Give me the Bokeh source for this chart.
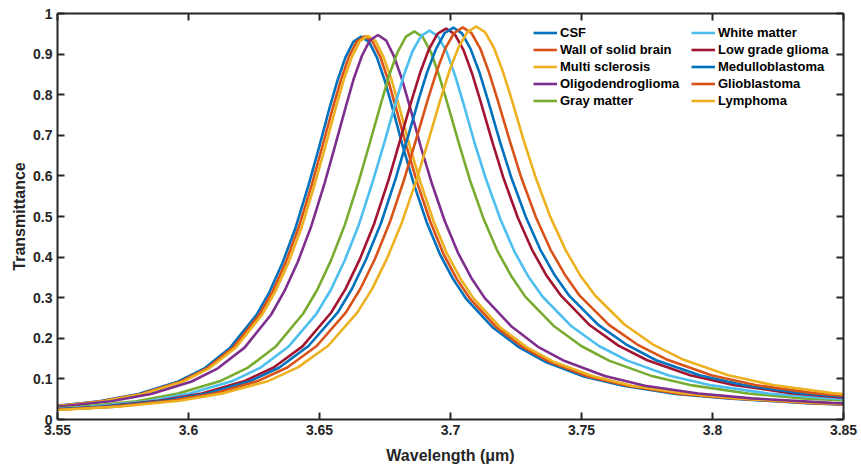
from bokeh.plotting import figure
from bokeh.models import LinearAxis, FixedTicker, Legend, LegendItem, Range1d
from bokeh.embed import file_html
from bokeh.resources import INLINE

# ---- data (wavelength in um, transmittance) ----
csf_wl = [3.5159, 3.5459, 3.5659, 3.5809, 3.5959, 3.6059, 3.6159, 3.6259, 3.6309, 3.6359, 3.6409, 3.6459, 3.6499, 3.6539, 3.6569, 3.6599, 3.6629, 3.6659, 3.6689, 3.6719, 3.6749, 3.6779, 3.6819, 3.6859, 3.6909, 3.6959, 3.7009, 3.7059, 3.7159, 3.7259, 3.7359, 3.7509, 3.7659, 3.7859, 3.8059, 3.8359, 3.8659]
csf_t = [0.020, 0.031, 0.045, 0.063, 0.093, 0.125, 0.177, 0.257, 0.314, 0.386, 0.473, 0.579, 0.672, 0.769, 0.836, 0.892, 0.930, 0.943, 0.930, 0.892, 0.835, 0.766, 0.671, 0.582, 0.486, 0.408, 0.347, 0.298, 0.228, 0.179, 0.143, 0.106, 0.083, 0.063, 0.052, 0.040, 0.033]

wall_wl = [3.5166, 3.5467, 3.5668, 3.5819, 3.5969, 3.6070, 3.6170, 3.6270, 3.6321, 3.6371, 3.6421, 3.6471, 3.6511, 3.6552, 3.6582, 3.6612, 3.6642, 3.6672, 3.6702, 3.6732, 3.6762, 3.6792, 3.6833, 3.6873, 3.6923, 3.6973, 3.7023, 3.7074, 3.7174, 3.7274, 3.7375, 3.7525, 3.7676, 3.7877, 3.8078, 3.8379, 3.8680]
wall_t = [0.020, 0.031, 0.045, 0.063, 0.093, 0.126, 0.177, 0.258, 0.315, 0.387, 0.474, 0.579, 0.673, 0.770, 0.837, 0.893, 0.931, 0.944, 0.931, 0.893, 0.836, 0.767, 0.671, 0.583, 0.487, 0.408, 0.347, 0.298, 0.228, 0.179, 0.143, 0.106, 0.083, 0.063, 0.052, 0.040, 0.033]

ms_wl = [3.5172, 3.5474, 3.5676, 3.5827, 3.5978, 3.6079, 3.6180, 3.6281, 3.6331, 3.6382, 3.6432, 3.6482, 3.6523, 3.6563, 3.6593, 3.6624, 3.6654, 3.6684, 3.6714, 3.6744, 3.6775, 3.6805, 3.6845, 3.6886, 3.6936, 3.6986, 3.7037, 3.7087, 3.7188, 3.7289, 3.7390, 3.7541, 3.7692, 3.7894, 3.8095, 3.8398, 3.8700]
ms_t = [0.020, 0.031, 0.045, 0.063, 0.093, 0.126, 0.177, 0.258, 0.315, 0.387, 0.474, 0.580, 0.674, 0.770, 0.838, 0.894, 0.932, 0.945, 0.932, 0.893, 0.837, 0.768, 0.672, 0.583, 0.487, 0.409, 0.348, 0.299, 0.228, 0.179, 0.143, 0.107, 0.083, 0.064, 0.052, 0.041, 0.033]

oligo_wl = [3.5195, 3.5500, 3.5704, 3.5857, 3.6010, 3.6112, 3.6214, 3.6315, 3.6366, 3.6417, 3.6468, 3.6519, 3.6560, 3.6601, 3.6631, 3.6662, 3.6692, 3.6723, 3.6754, 3.6784, 3.6815, 3.6845, 3.6886, 3.6927, 3.6978, 3.7029, 3.7080, 3.7131, 3.7233, 3.7334, 3.7436, 3.7589, 3.7742, 3.7946, 3.8150, 3.8455, 3.8761]
oligo_t = [0.020, 0.031, 0.045, 0.063, 0.093, 0.126, 0.177, 0.258, 0.316, 0.388, 0.475, 0.581, 0.675, 0.772, 0.840, 0.896, 0.934, 0.947, 0.934, 0.895, 0.838, 0.770, 0.673, 0.585, 0.489, 0.410, 0.348, 0.299, 0.229, 0.179, 0.144, 0.107, 0.083, 0.064, 0.052, 0.041, 0.033]

gray_wl = [3.5271, 3.5589, 3.5801, 3.5960, 3.6119, 3.6225, 3.6332, 3.6438, 3.6491, 3.6544, 3.6597, 3.6650, 3.6692, 3.6735, 3.6766, 3.6798, 3.6830, 3.6862, 3.6894, 3.6926, 3.6957, 3.6989, 3.7032, 3.7074, 3.7127, 3.7180, 3.7233, 3.7286, 3.7393, 3.7499, 3.7605, 3.7764, 3.7923, 3.8135, 3.8347, 3.8666, 3.8984]
gray_t = [0.020, 0.031, 0.045, 0.064, 0.094, 0.127, 0.179, 0.261, 0.319, 0.392, 0.480, 0.587, 0.681, 0.779, 0.848, 0.905, 0.943, 0.956, 0.942, 0.904, 0.846, 0.777, 0.680, 0.590, 0.493, 0.414, 0.352, 0.302, 0.231, 0.181, 0.145, 0.108, 0.084, 0.064, 0.052, 0.041, 0.034]

white_wl = [3.5303, 3.5626, 3.5842, 3.6004, 3.6165, 3.6273, 3.6381, 3.6489, 3.6543, 3.6597, 3.6651, 3.6704, 3.6748, 3.6791, 3.6823, 3.6855, 3.6888, 3.6920, 3.6952, 3.6985, 3.7017, 3.7049, 3.7092, 3.7136, 3.7190, 3.7243, 3.7297, 3.7351, 3.7459, 3.7567, 3.7675, 3.7836, 3.7998, 3.8214, 3.8429, 3.8753, 3.9076]
white_t = [0.020, 0.031, 0.045, 0.064, 0.094, 0.127, 0.179, 0.261, 0.319, 0.393, 0.481, 0.588, 0.683, 0.781, 0.850, 0.907, 0.945, 0.958, 0.944, 0.906, 0.848, 0.779, 0.681, 0.591, 0.494, 0.415, 0.352, 0.303, 0.231, 0.181, 0.145, 0.108, 0.084, 0.064, 0.053, 0.041, 0.034]

lowgrade_wl = [3.5338, 3.5667, 3.5886, 3.6051, 3.6215, 3.6325, 3.6435, 3.6544, 3.6599, 3.6654, 3.6709, 3.6764, 3.6807, 3.6851, 3.6884, 3.6917, 3.6950, 3.6983, 3.7016, 3.7049, 3.7082, 3.7115, 3.7159, 3.7202, 3.7257, 3.7312, 3.7367, 3.7422, 3.7532, 3.7641, 3.7751, 3.7915, 3.8080, 3.8299, 3.8519, 3.8848, 3.9177]
lowgrade_t = [0.020, 0.031, 0.046, 0.064, 0.095, 0.128, 0.180, 0.263, 0.321, 0.395, 0.483, 0.591, 0.686, 0.785, 0.854, 0.911, 0.950, 0.963, 0.949, 0.911, 0.853, 0.783, 0.685, 0.595, 0.497, 0.417, 0.354, 0.305, 0.232, 0.182, 0.146, 0.109, 0.085, 0.065, 0.053, 0.041, 0.034]

medullo_wl = [3.5352, 3.5684, 3.5905, 3.6071, 3.6237, 3.6347, 3.6458, 3.6569, 3.6624, 3.6679, 3.6735, 3.6790, 3.6834, 3.6878, 3.6911, 3.6945, 3.6978, 3.7011, 3.7044, 3.7077, 3.7111, 3.7144, 3.7188, 3.7232, 3.7288, 3.7343, 3.7398, 3.7453, 3.7564, 3.7675, 3.7785, 3.7951, 3.8117, 3.8338, 3.8559, 3.8891, 3.9223]
medullo_t = [0.020, 0.031, 0.046, 0.064, 0.095, 0.128, 0.181, 0.263, 0.322, 0.396, 0.484, 0.592, 0.688, 0.787, 0.856, 0.913, 0.952, 0.965, 0.951, 0.912, 0.854, 0.784, 0.686, 0.596, 0.498, 0.418, 0.355, 0.305, 0.233, 0.183, 0.146, 0.109, 0.085, 0.065, 0.053, 0.041, 0.034]

glio_wl = [3.5373, 3.5708, 3.5931, 3.6098, 3.6266, 3.6377, 3.6489, 3.6601, 3.6656, 3.6712, 3.6768, 3.6824, 3.6868, 3.6913, 3.6947, 3.6980, 3.7014, 3.7047, 3.7080, 3.7114, 3.7147, 3.7181, 3.7226, 3.7270, 3.7326, 3.7382, 3.7438, 3.7493, 3.7605, 3.7717, 3.7828, 3.7996, 3.8163, 3.8386, 3.8609, 3.8944, 3.9279]
glio_t = [0.020, 0.031, 0.046, 0.064, 0.095, 0.128, 0.181, 0.264, 0.322, 0.396, 0.485, 0.593, 0.688, 0.787, 0.857, 0.914, 0.952, 0.966, 0.952, 0.913, 0.855, 0.785, 0.687, 0.596, 0.498, 0.418, 0.355, 0.305, 0.233, 0.183, 0.147, 0.109, 0.085, 0.065, 0.053, 0.041, 0.034]

lymph_wl = [3.5400, 3.5740, 3.5966, 3.6136, 3.6306, 3.6419, 3.6532, 3.6645, 3.6702, 3.6758, 3.6815, 3.6872, 3.6917, 3.6962, 3.6996, 3.7030, 3.7064, 3.7098, 3.7132, 3.7166, 3.7200, 3.7234, 3.7279, 3.7324, 3.7381, 3.7438, 3.7494, 3.7551, 3.7664, 3.7777, 3.7890, 3.8060, 3.8230, 3.8456, 3.8683, 3.9022, 3.9362]
lymph_t = [0.020, 0.032, 0.046, 0.065, 0.095, 0.129, 0.181, 0.264, 0.323, 0.397, 0.486, 0.594, 0.690, 0.789, 0.859, 0.916, 0.954, 0.968, 0.954, 0.915, 0.857, 0.787, 0.688, 0.598, 0.499, 0.419, 0.356, 0.306, 0.234, 0.183, 0.147, 0.109, 0.085, 0.065, 0.053, 0.042, 0.034]

tissue_names = ["CSF", "Wall of solid brain", "Multi sclerosis", "Oligodendroglioma", "Gray matter",
                "White matter", "Low grade glioma", "Medulloblastoma", "Glioblastoma", "Lymphoma"]
tissue_colors = ["#0072BD", "#D95319", "#EDB120", "#7E2F8E", "#77AC30",
                 "#4DBEEE", "#A2142F", "#0072BD", "#D95319", "#EDB120"]
wavelength_series = [csf_wl, wall_wl, ms_wl, oligo_wl, gray_wl, white_wl, lowgrade_wl, medullo_wl, glio_wl, lymph_wl]
transmittance_series = [csf_t, wall_t, ms_t, oligo_t, gray_t, white_t, lowgrade_t, medullo_t, glio_t, lymph_t]

x_ticks = [3.55, 3.6, 3.65, 3.7, 3.75, 3.8, 3.85]
x_tick_labels = ["3.55", "3.6", "3.65", "3.7", "3.75", "3.8", "3.85"]
y_ticks = [0, 0.1, 0.2, 0.3, 0.4, 0.5, 0.6, 0.7, 0.8, 0.9, 1]
y_tick_labels = ["0", "0.1", "0.2", "0.3", "0.4", "0.5", "0.6", "0.7", "0.8", "0.9", "1"]

FONT = "Liberation Sans"
AXC = "#262626"

p = figure(width=861, height=468, output_backend="svg", toolbar_location=None,
           x_range=Range1d(3.55, 3.85), y_range=Range1d(0, 1),
           min_border_left=57, min_border_right=18, min_border_top=13, min_border_bottom=49)
p.background_fill_color = "white"
p.border_fill_color = "white"
p.outline_line_color = None
p.xgrid.visible = False
p.ygrid.visible = False

renderers = []
for wl, tr, col in zip(wavelength_series, transmittance_series, tissue_colors):
    r = p.line(wl, tr, line_color=col, line_width=2.6)
    renderers.append(r)

def style_axis(ax, ticks, labels=None, show_labels=True):
    ax.ticker = FixedTicker(ticks=ticks)
    ax.axis_line_color = AXC
    ax.axis_line_width = 2
    ax.major_tick_line_color = AXC
    ax.major_tick_line_width = 2
    ax.major_tick_in = 7
    ax.major_tick_out = 0
    ax.minor_tick_line_color = None
    if show_labels:
        ax.major_label_overrides = dict(zip(ticks, labels))
        ax.major_label_text_font = FONT
        ax.major_label_text_font_style = "bold"
        ax.major_label_text_font_size = "14px"
        ax.major_label_text_color = AXC
        ax.major_label_standoff = 5
    else:
        ax.major_label_text_color = None
        ax.major_label_text_alpha = 0
        ax.major_label_text_font_size = "1px"
        ax.major_label_standoff = 0

style_axis(p.xaxis[0], x_ticks, x_tick_labels)
style_axis(p.yaxis[0], y_ticks, y_tick_labels)
p.xaxis[0].axis_label = "Wavelength (μm)"
p.yaxis[0].axis_label = "Transmittance"
for ax in (p.xaxis[0], p.yaxis[0]):
    ax.axis_label_text_font = FONT
    ax.axis_label_text_font_style = "bold"
    ax.axis_label_text_font_size = "16px"
    ax.axis_label_text_color = AXC
p.xaxis[0].axis_label_standoff = 9
p.yaxis[0].axis_label_standoff = 2

top_ax = LinearAxis()
style_axis(top_ax, x_ticks, show_labels=False)
p.add_layout(top_ax, "above")
right_ax = LinearAxis()
style_axis(right_ax, y_ticks, show_labels=False)
p.add_layout(right_ax, "right")

def make_legend(idx, loc):
    leg = Legend(items=[LegendItem(label=tissue_names[i], renderers=[renderers[i]]) for i in idx],
                 location=loc, orientation="vertical")
    leg.label_text_font = FONT
    leg.label_text_font_style = "bold"
    leg.label_text_font_size = "13px"
    leg.label_text_color = "black"
    leg.glyph_width = 24
    leg.glyph_height = 17
    leg.label_height = 17
    leg.label_standoff = 3
    leg.spacing = 0
    leg.padding = 0
    leg.margin = 0
    leg.border_line_color = None
    leg.background_fill_alpha = 0
    leg.click_policy = "none"
    return leg

p.add_layout(make_legend([0, 1, 2, 3, 4], (476, 310)))
p.add_layout(make_legend([5, 6, 7, 8, 9], (634, 310)))

open("out.html", "w").write(file_html(p, INLINE))
